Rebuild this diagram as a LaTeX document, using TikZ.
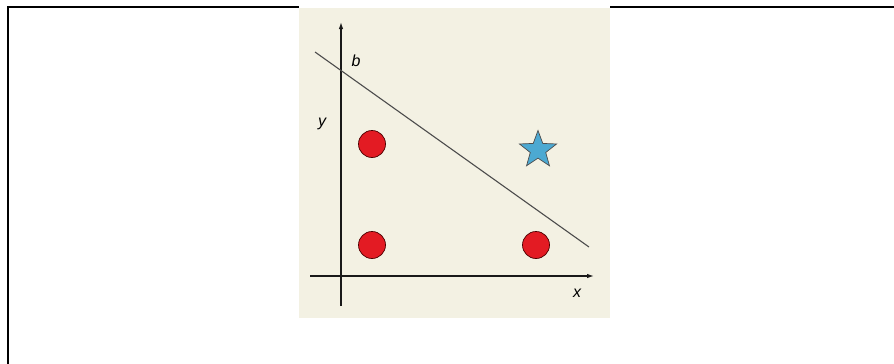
\documentclass[tikz,border=0pt]{standalone}
\usepackage{fontspec}
\setmainfont{Liberation Sans}
\usetikzlibrary{shapes.geometric,arrows.meta}
\definecolor{panelbg}{HTML}{F3F1E3}
\definecolor{dotred}{HTML}{E31B23}
\definecolor{starblue}{HTML}{4CA9D2}
\tikzset{
  frameline/.style={line width=2pt, black},
  axisline/.style={line width=1.2pt, black!90, -{Latex[length=7pt,width=4.5pt]}},
  sepline/.style={line width=1.1pt, black!70},
  dot/.style={circle, draw=black!70!red, line width=0.7pt, fill=dotred, minimum size=27pt, inner sep=0pt},
  starmark/.style={star, star points=5, star point ratio=2.4, draw=black!70, line width=0.7pt, fill=starblue, minimum size=39pt, inner sep=0pt},
  axlabel/.style={font=\fontsize{16pt}{16pt}\selectfont\itshape, inner sep=0pt}
}
\begin{document}
\begin{tikzpicture}[x=1pt,y=-1pt]
\useasboundingbox (0,0) rectangle (894,364);
% outer frame (top and left)
\draw[frameline] (7,7) -- (894,7);
\draw[frameline] (8,6) -- (8,364);
% panel
\fill[white] (299,0) rectangle (610,8);
\fill[panelbg] (299,8) rectangle (610,318);
% axes
\coordinate (yb) at (341,306);
\coordinate (yt) at (341,22);
\coordinate (xl) at (310,276);
\coordinate (xr) at (594,276);
\draw[axisline] (yb) -- (yt);
\draw[axisline] (xl) -- (xr);
% separating line
\coordinate (la) at (315,52);
\coordinate (lb) at (589,247);
\draw[sepline] (la) -- (lb);
% labels
\node[axlabel] (b) at (356,61) {b};
\node[axlabel] (y) at (322,124) {y};
\node[axlabel] (x) at (577,293) {x};
% points
\node[dot] (p1) at (372,144) {};
\node[dot] (p2) at (372,245) {};
\node[dot] (p3) at (536,245) {};
\node[starmark] (s) at (538,150) {};
\end{tikzpicture}
\end{document}
